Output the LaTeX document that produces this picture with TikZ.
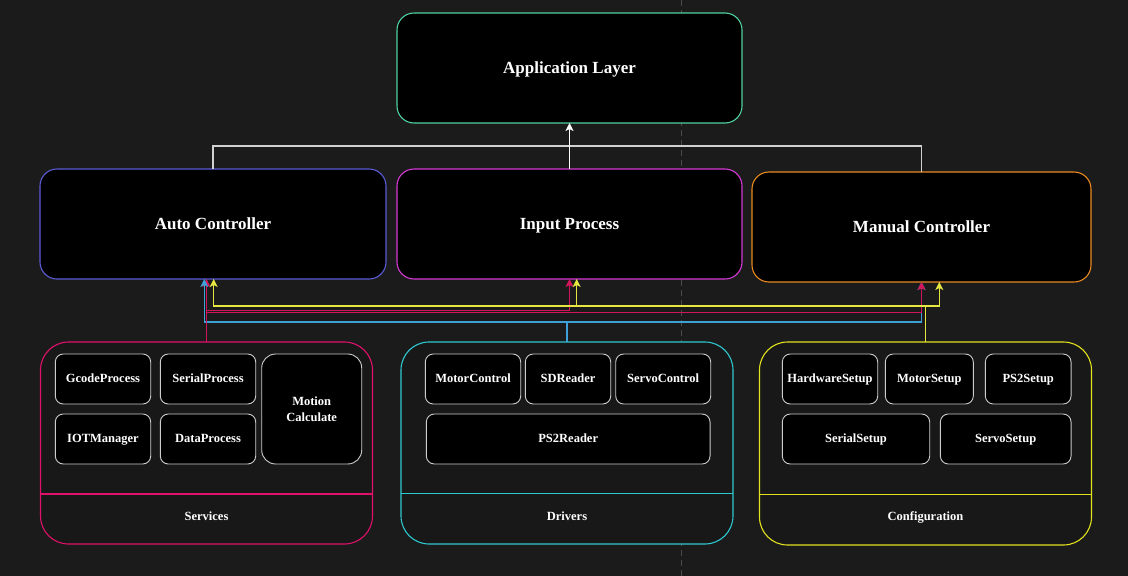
\documentclass[tikz,border=0pt]{standalone}
\usepackage{fontspec}
\setmainfont{Liberation Serif}
\usetikzlibrary{arrows.meta,calc}
\definecolor{bg}{HTML}{1B1B1B}
\definecolor{boxbg}{HTML}{181818}
\definecolor{cApp}{HTML}{4FD1A0}
\definecolor{cAuto}{HTML}{5B5BD6}
\definecolor{cInput}{HTML}{D63AD6}
\definecolor{cManual}{HTML}{E8891E}
\definecolor{cServ}{HTML}{E0116B}
\definecolor{cDrv}{HTML}{2EC8D0}
\definecolor{cConf}{HTML}{E2E21E}
\definecolor{cBlue}{HTML}{3FA0D8}
\definecolor{cRed}{HTML}{D4145A}
\definecolor{cYel}{HTML}{E6E640}
\definecolor{cInner}{HTML}{CCCCCC}
\definecolor{cWire}{HTML}{D0D0D0}
\definecolor{cDash}{HTML}{4A4A4A}
\begin{document}
\begin{tikzpicture}[x=1pt,y=-1pt,
  mainbox/.style={draw, fill=black, rounded corners=17pt, line width=1.1pt,
    inner sep=0pt, outer sep=0pt, minimum height=110pt, text=white,
    text height=14.5pt, text depth=4.3pt,
    font=\bfseries\fontsize{17}{20}\selectfont},
  groupbox/.style={draw, fill=boxbg, rounded corners=28pt, line width=1.1pt,
    inner sep=0pt, outer sep=0pt, minimum width=332pt},
  innerbox/.style={draw=cInner, fill=black, rounded corners=8pt, line width=0.9pt,
    inner sep=0pt, outer sep=0pt, minimum height=50pt, text=white, align=center,
    text height=10.6pt, text depth=3.1pt,
    font=\bfseries\fontsize{12.5}{15.5}\selectfont},
  seclabel/.style={text=white, inner sep=0pt, text height=10.6pt, text depth=3.1pt,
    font=\bfseries\fontsize{12.5}{15}\selectfont},
  wire/.style={line width=1.2pt},
  arr/.style={-{Stealth[length=8pt,width=8pt,inset=2pt]}}
]
\useasboundingbox (0,0) rectangle (1128,576);
\fill[bg] (0,0) rectangle (1128,576);
\draw[cDash, line width=1pt, dash pattern=on 6pt off 4pt] (681.5,0) -- (681.5,576);

% main layer
\node[mainbox, draw=cApp, minimum width=345pt] (app) at (569.5,68) {Application Layer};
\node[mainbox, draw=cAuto, minimum width=346pt] (auto) at (213,224) {Auto Controller};
\node[mainbox, draw=cInput, minimum width=345pt] (input) at (569.5,224) {Input Process};
\node[mainbox, draw=cManual, minimum width=339pt] (manual) at (921.5,227) {Manual Controller};

% groups
\node[groupbox, draw=cServ, minimum height=202pt] (services) at (206.5,443) {};
\node[groupbox, draw=cDrv, minimum height=202pt] (drivers) at (567,443) {};
\node[groupbox, draw=cConf, minimum height=203pt] (config) at (925.5,443.5) {};
\draw[cServ, line width=1.1pt] (services.west |- 0,494) -- (services.east |- 0,494);
\draw[cDrv, line width=1.1pt] (drivers.west |- 0,493.5) -- (drivers.east |- 0,493.5);
\draw[cConf, line width=1.1pt] (config.west |- 0,494.3) -- (config.east |- 0,494.3);
\node[seclabel] (servlab) at (206.5,517) {Services};
\node[seclabel] (drvlab) at (567,517) {Drivers};
\node[seclabel] (conflab) at (925.5,517) {Configuration};

% services content
\node[innerbox, minimum width=95.4pt] (gcode) at (103,379) {GcodeProcess};
\node[innerbox, minimum width=95.4pt] (serialp) at (208,379) {SerialProcess};
\node[innerbox, minimum width=100pt, minimum height=110pt, rounded corners=14pt,
  text height=, text depth=] (motion) at (311.7,409) {Motion\\Calculate};
\node[innerbox, minimum width=95.4pt] (iot) at (103,439) {IOTManager};
\node[innerbox, minimum width=95.4pt] (datap) at (208,439) {DataProcess};

% drivers content
\node[innerbox, minimum width=95.4pt] (motorc) at (473,379) {MotorControl};
\node[innerbox, minimum width=85.4pt] (sdr) at (568,379) {SDReader};
\node[innerbox, minimum width=95pt] (servoc) at (663.2,379) {ServoControl};
\node[innerbox, minimum width=283.7pt] (ps2r) at (568.2,439) {PS2Reader};

% configuration content
\node[innerbox, minimum width=95.4pt] (hw) at (830,379) {HardwareSetup};
\node[innerbox, minimum width=88pt] (motors) at (929.3,379) {MotorSetup};
\node[innerbox, minimum width=85.7pt] (ps2s) at (1028.2,379) {PS2Setup};
\node[innerbox, minimum width=147.4pt] (serials) at (856,439) {SerialSetup};
\node[innerbox, minimum width=130.7pt] (servos) at (1005.7,439) {ServoSetup};

% top connectors
\draw[wire, cWire] (auto.north) -- ++(0,-23) -| (manual.north);
\draw[wire, white, arr] (input.north) -- (app.south);

% bottom connectors
\draw[wire, cRed, arr] (services.north) -- ([xshift=-6.5pt]auto.south);
\draw[wire, cBlue, arr] (drivers.north) -- ++(0,-20) -| ([xshift=-8.7pt]auto.south);
\draw[wire, cBlue, arr] (drivers.north) -- ++(0,-20) -| (manual.south);
\draw[wire, cRed, arr] (services.north) -- ++(0,-31.7) -| (input.south);
\draw[wire, cRed, arr] (services.north) -- ++(0,-29.7) -| (manual.south);
\draw[wire, cYel, arr] (config.north) -- ++(0,-36) -| ([xshift=0.7pt]auto.south);
\draw[wire, cYel, arr] (config.north) -- ++(0,-36) -| ([xshift=7.2pt]input.south);
\draw[wire, cYel, arr] (config.north) -- ++(0,-36) -| ([xshift=17.8pt]manual.south);
\end{tikzpicture}
\end{document}
